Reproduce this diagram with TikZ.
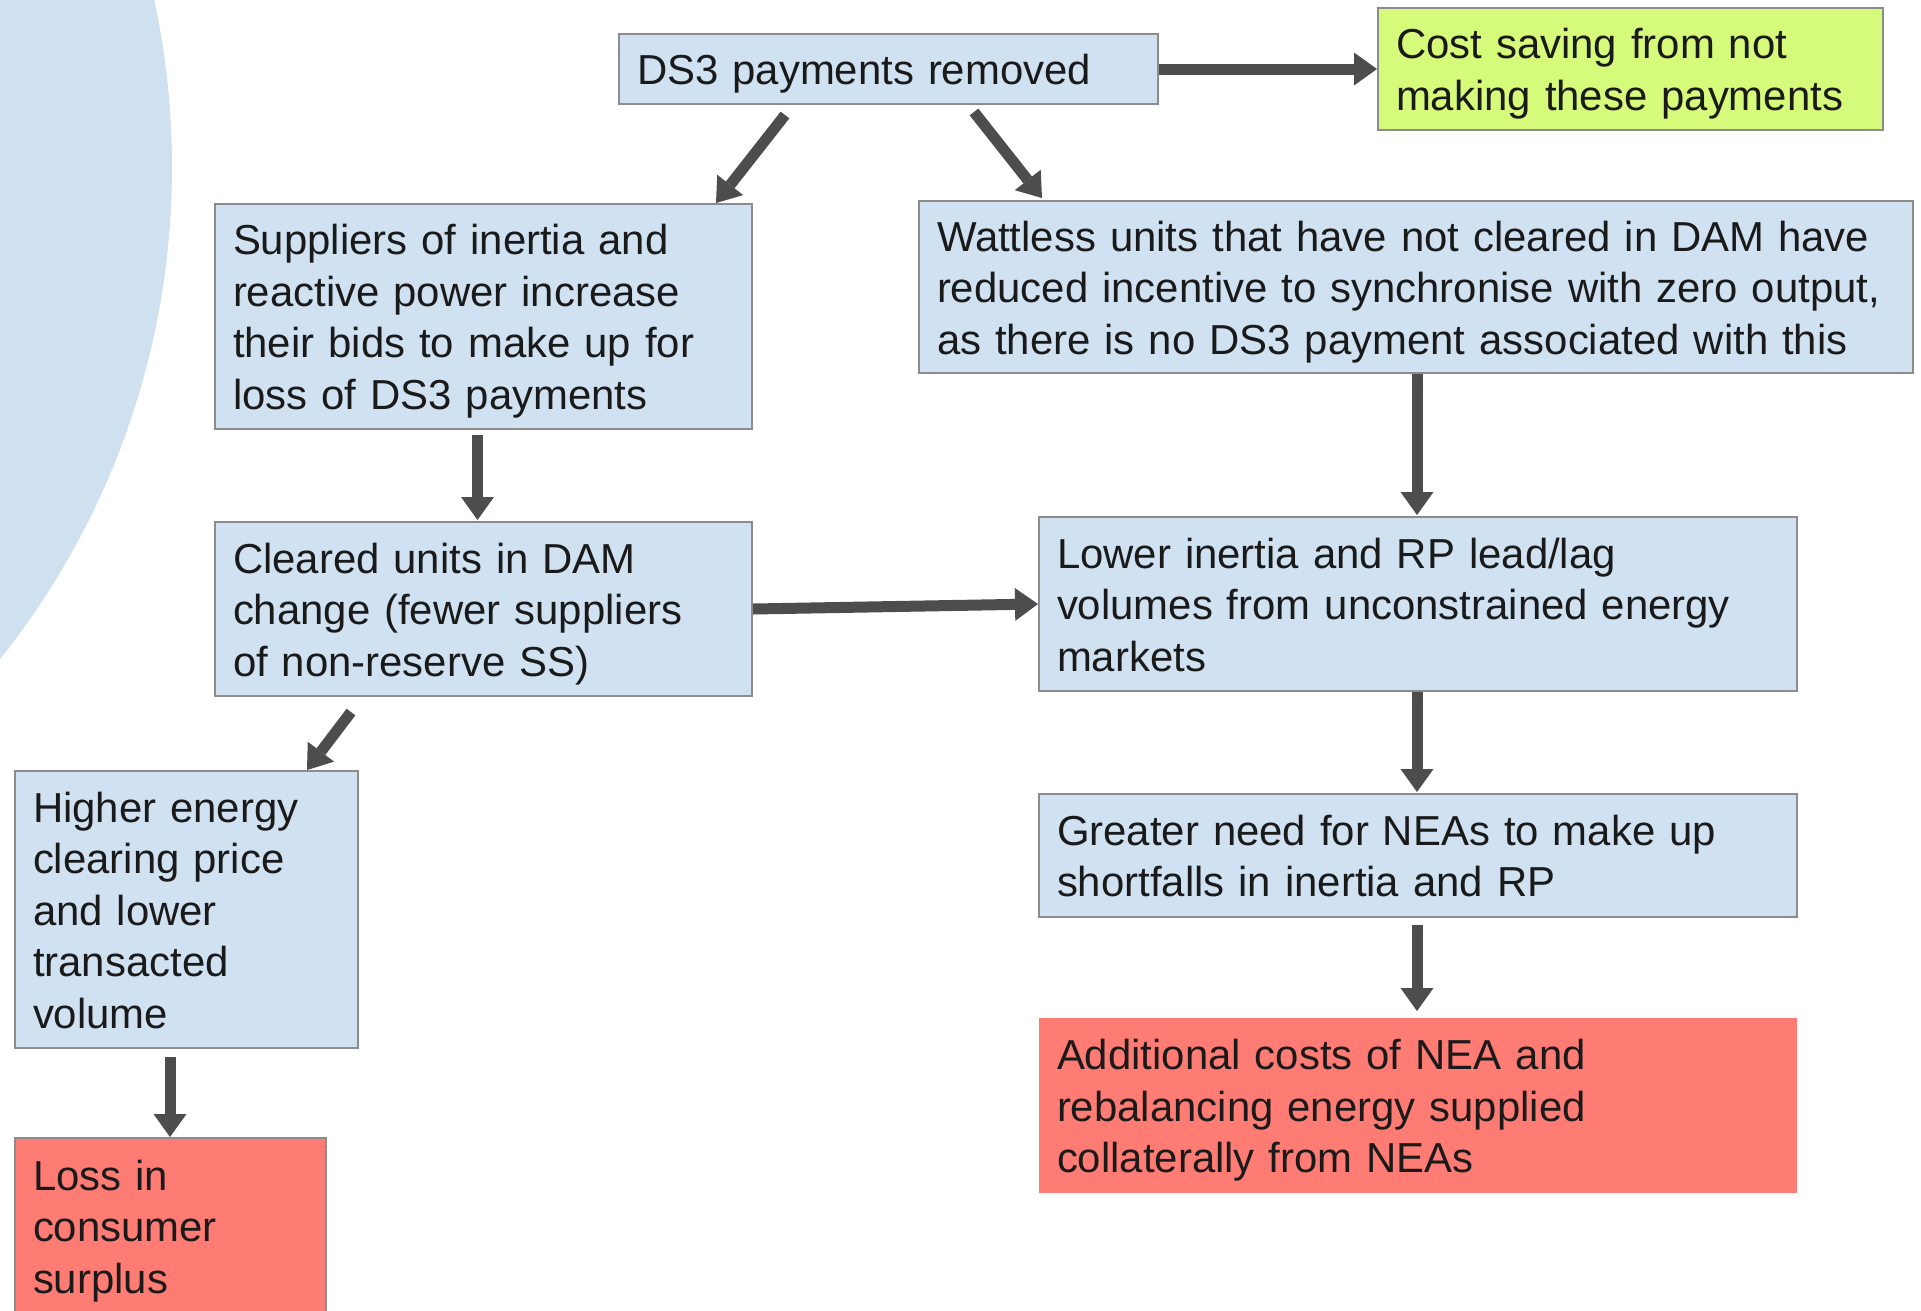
\documentclass[tikz,border=0pt]{standalone}
\usepackage{fontspec}
\setmainfont{Liberation Sans}
\usetikzlibrary{arrows.meta,calc}
\definecolor{boxblue}{RGB}{208,226,242}
\definecolor{circblue}{RGB}{207,225,240}
\definecolor{boxgreen}{RGB}{214,250,122}
\definecolor{boxred}{RGB}{255,124,116}
\definecolor{arrowc}{RGB}{77,77,77}
\definecolor{bordergray}{RGB}{140,140,140}
\definecolor{textc}{RGB}{26,26,26}
\newcommand\mystrut{\rule[-10.25pt]{0pt}{51.5pt}}
\begin{document}
\begin{tikzpicture}[x=1pt,y=-1pt,
  box/.style={draw=bordergray, line width=2pt, fill=boxblue, anchor=north west,
    inner xsep=18pt, inner ysep=0pt, align=left, text=textc,
    font=\fontsize{41.9}{51.5}\selectfont,
    execute at begin node=\mystrut, execute at end node=\mystrut},
  arr/.style={draw=arrowc, line width=11pt, -{Triangle[length=23pt,width=33pt,line width=0pt]}},
]
\useasboundingbox (0,0) rectangle (1921,1310);
\fill[circblue] (-618,167) circle (790);

\node[box, minimum width=539, minimum height=70, text width=503] (ds3) at (618,33)
  {DS3 payments removed};
\node[box, fill=boxgreen, minimum width=505, minimum height=122, text width=469] (cost) at (1377,7)
  {Cost saving from not\\making these payments};
\node[box, minimum width=537, minimum height=225, text width=501] (sup) at (214,203)
  {Suppliers of inertia and\\reactive power increase\\their bids to make up for\\loss of DS3 payments};
\node[box, minimum width=994, minimum height=172, text width=958] (wat) at (918,200)
  {Wattless units that have not cleared in DAM have\\reduced incentive to synchronise with zero output,\\as there is no DS3 payment associated with this};
\node[box, minimum width=537, minimum height=174, text width=501] (cle) at (214,521)
  {Cleared units in DAM\\change (fewer suppliers\\of non-reserve SS)};
\node[box, minimum width=758, minimum height=174, text width=722] (low) at (1038,516)
  {Lower inertia and RP lead/lag\\volumes from unconstrained energy\\markets};
\node[box, minimum width=758, minimum height=123, text width=722] (gre) at (1038,793)
  {Greater need for NEAs to make up\\shortfalls in inertia and RP};
\node[box, draw=none, fill=boxred, minimum width=758, minimum height=175, text width=722] (add) at (1038,1017)
  {Additional costs of NEA and\\rebalancing energy supplied\\collaterally from NEAs};
\node[box, minimum width=343, minimum height=277, text width=307] (hig) at (14,770)
  {Higher energy\\clearing price\\and lower\\transacted\\volume};
\node[box, fill=boxred, minimum width=311, minimum height=176, text width=275] (los) at (14,1137)
  {Loss in\\consumer\\surplus};

\draw[arr] (ds3.east) -- (cost.west);
\draw[arr] ([shift={(167,10)}]ds3.south west) -- ([shift={(502,0)}]sup.north west);
\draw[arr] ([shift={(356,7)}]ds3.south west) -- ([shift={(124,-2)}]wat.north west);
\draw[arr] ([shift={(-6,5)}]sup.south) -- ([shift={(-6,-1)}]cle.north);
\draw[arr] ([shift={(1,0)}]wat.south) -- ([shift={(-1,-1)}]low.north);
\draw[arr] (cle.east) -- (low.west);
\draw[arr] ([shift={(137,15)}]cle.south west) -- ([shift={(293,0)}]hig.north west);
\draw[arr] ([shift={(-1,0)}]low.south) -- ([shift={(-1,-1)}]gre.north);
\draw[arr] ([shift={(-1,7)}]gre.south) -- ([shift={(-1,-6)}]add.north);
\draw[arr] ([shift={(-16.5,8)}]hig.south) -- ([shift={(-0.5,0)}]los.north);
\end{tikzpicture}
\end{document}
